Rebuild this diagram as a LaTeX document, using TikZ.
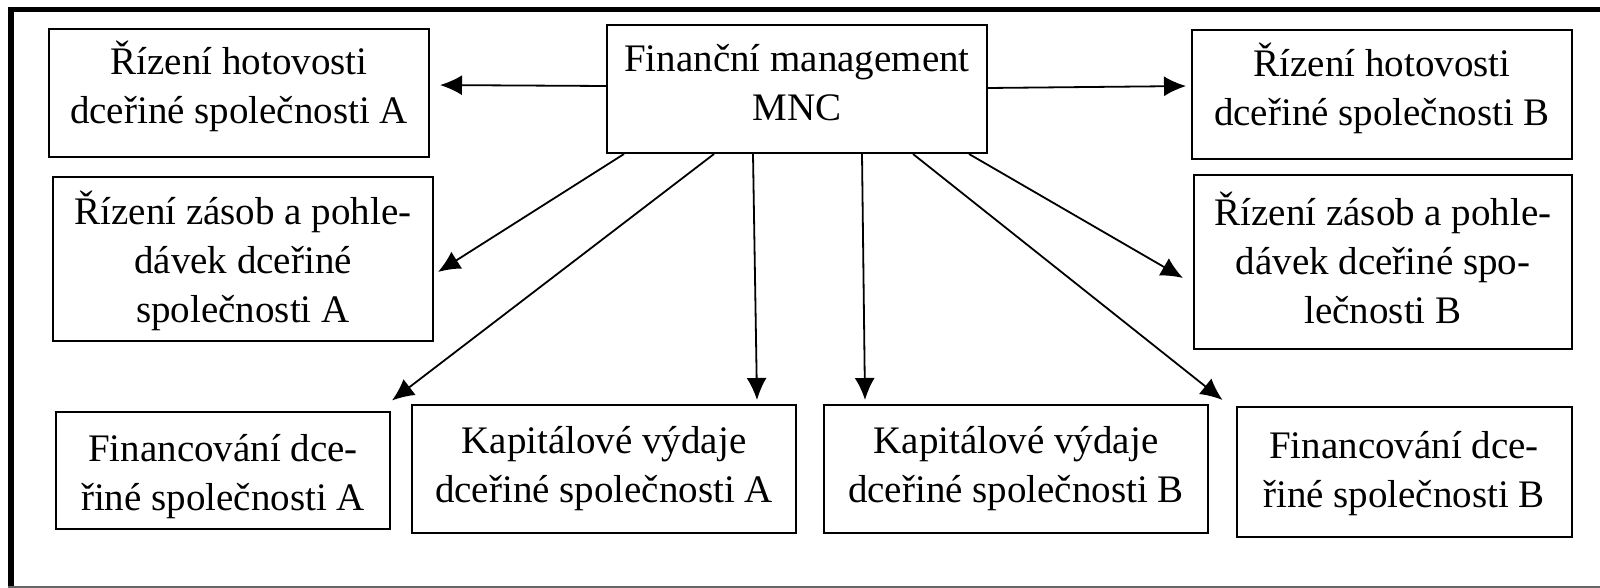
\documentclass[tikz,border=0pt]{standalone}
\usepackage{fontspec}
\setmainfont{Liberation Serif}
\usetikzlibrary{arrows.meta}
\begin{document}
\begin{tikzpicture}[x=0.5pt,y=-0.5pt,
  box/.style={draw, line width=1pt, inner sep=0pt},
  txt/.style={align=center, inner sep=0pt, font=\fontsize{19.5pt}{24.5pt}\selectfont},
  arr/.style={line width=0.9pt, -{Latex[length=11pt,width=10pt]}}]
\useasboundingbox (0,0) rectangle (1600,588);
% frame
\draw[line width=2.9pt] (11,588) -- (11,9.5) -- (1600,9.5);
\draw[line width=0.8pt, black!60] (8,587) -- (1600,587);
% boxes
\node[box, minimum width=190pt, minimum height=64pt] (mnc) at (797,89) {};
\node[box, minimum width=190pt, minimum height=64pt] (a1) at (239,93) {};
\node[box, minimum width=190pt, minimum height=64.5pt] (b1) at (1382,95) {};
\node[box, minimum width=190pt, minimum height=82pt] (a2) at (243,259) {};
\node[box, minimum width=189pt, minimum height=86.5pt] (b2) at (1383,262) {};
\node[box, minimum width=167pt, minimum height=58.5pt] (fa) at (223,470) {};
\node[box, minimum width=192pt, minimum height=64pt] (ka) at (604,469) {};
\node[box, minimum width=192pt, minimum height=64pt] (kb) at (1016,469) {};
\node[box, minimum width=167.5pt, minimum height=65pt] (fb) at (1404,472) {};
% texts
\node[txt, yshift=3pt] (mnct) at (mnc.center) {Finanční management\\MNC};
\node[txt, yshift=3.5pt] (a1t) at (a1.center) {Řízení hotovosti\\dceřiné společnosti A};
\node[txt, yshift=3.5pt] (b1t) at (b1.center) {Řízení hotovosti\\dceřiné společnosti B};
\node[txt, yshift=-1pt] (a2t) at (a2.center) {Řízení zásob a pohle-\\dávek dceřiné\\společnosti A};
\node[txt, yshift=2pt] (b2t) at (b2.center) {Řízení zásob a pohle-\\dávek dceřiné spo-\\lečnosti B};
\node[txt, yshift=-3.5pt] (fat) at (fa.center) {Financování dce-\\řiné společnosti A};
\node[txt] (kat) at (ka.center) {Kapitálové výdaje\\dceřiné společnosti A};
\node[txt] (kbt) at (kb.center) {Kapitálové výdaje\\dceřiné společnosti B};
\node[txt, yshift=-1pt] (fbt) at (fb.center) {Financování dce-\\řiné společnosti B};
% arrows
\draw[arr, shorten >=5pt] ([yshift=1.5pt]mnc.west) -- ([yshift=4pt]a1.east);
\draw[arr, shorten >=2.5pt] ([yshift=0.5pt]mnc.east) -- ([yshift=4.5pt]b1.west);
\draw[arr] ([xshift=-86.5pt]mnc.south) -- ([xshift=2pt,yshift=-6.5pt]a2.east);
\draw[arr] ([xshift=-41.5pt]mnc.south) -- ([xshift=0.5pt,yshift=5pt]fa.north east);
\draw[arr] ([xshift=-22pt]mnc.south) -- ([xshift=76.5pt,yshift=2pt]ka.north);
\draw[arr] ([xshift=32.5pt]mnc.south) -- ([xshift=-75.5pt,yshift=2pt]kb.north);
\draw[arr] ([xshift=58pt]mnc.south) -- ([xshift=-6.5pt,yshift=3pt]fb.north west);
\draw[arr] ([xshift=86pt]mnc.south) -- ([xshift=-5pt,yshift=-8pt]b2.west);
\end{tikzpicture}
\end{document}
